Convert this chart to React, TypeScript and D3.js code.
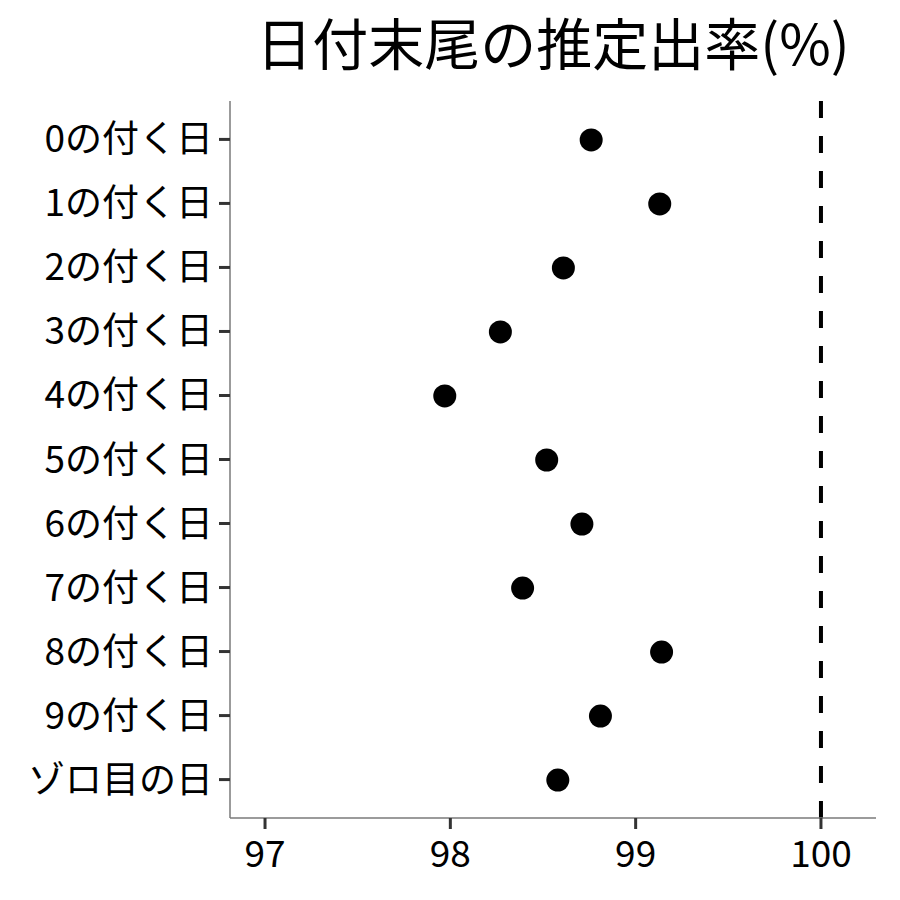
import * as d3 from "d3";
import { useEffect } from "react";

const categories = [
  "0の付く日",
  "1の付く日",
  "2の付く日",
  "3の付く日",
  "4の付く日",
  "5の付く日",
  "6の付く日",
  "7の付く日",
  "8の付く日",
  "9の付く日",
  "ゾロ目の日",
];
const rates = [98.76, 99.13, 98.61, 98.27, 97.97, 98.52, 98.71, 98.39, 99.14, 98.81, 98.58];
const xTicks = [97, 98, 99, 100];
const refLine = 100;
const title = "日付末尾の推定出率(%)";

const width = 900;
const height = 900;
const marginTop = 101;
const marginRight = 24;
const marginBottom = 82;
const marginLeft = 230;
const font = "'Noto Sans CJK JP', 'Noto Sans', sans-serif";

export default function App() {
  useEffect(() => {
    document.body.style.margin = "0";
  }, []);

  const x = d3
    .scaleLinear()
    .domain([96.811, 100.297])
    .range([marginLeft, width - marginRight]);
  const y = d3
    .scalePoint<string>()
    .domain(categories)
    .range([marginTop, height - marginBottom])
    .padding(0.6);

  const y0 = marginTop;
  const y1 = height - marginBottom;

  return (
    <svg width={width} height={height} style={{ display: "block" }} fontFamily={font}>
      <rect width={width} height={height} fill="white" />
      <text
        x={(marginLeft + width - marginRight) / 2}
        y={65}
        textAnchor="middle"
        fontSize={56}
        fill="black"
      >
        {title}
      </text>

      {/* reference line, drawn bottom to top */}
      <line
        x1={x(refLine)}
        x2={x(refLine)}
        y1={y1}
        y2={y0}
        stroke="black"
        strokeWidth={4}
        strokeDasharray="17 18"
      />

      {categories.map((c, i) => (
        <circle key={c} cx={x(rates[i])} cy={y(c)! + 0.5} r={11.5} fill="black" />
      ))}

      {/* axes */}
      <line x1={marginLeft} x2={marginLeft} y1={y0} y2={y1} stroke="#7a7a7a" strokeWidth={1.5} />
      <line
        x1={marginLeft}
        x2={width - marginRight}
        y1={y1}
        y2={y1}
        stroke="#7a7a7a"
        strokeWidth={1.5}
      />
      {categories.map((c) => (
        <g key={c} transform={`translate(0,${y(c)})`}>
          <line x1={marginLeft - 11} x2={marginLeft} stroke="#333" strokeWidth={3} />
          <text x={marginLeft - 17} dy={13} textAnchor="end" fontSize={37} fill="black">
            {c}
          </text>
        </g>
      ))}
      {xTicks.map((t) => (
        <g key={t} transform={`translate(${x(t)},${y1})`}>
          <line y1={0} y2={11} stroke="#333" strokeWidth={3} />
          <text y={49} textAnchor="middle" fontSize={37} fill="black">
            {t}
          </text>
        </g>
      ))}
    </svg>
  );
}
